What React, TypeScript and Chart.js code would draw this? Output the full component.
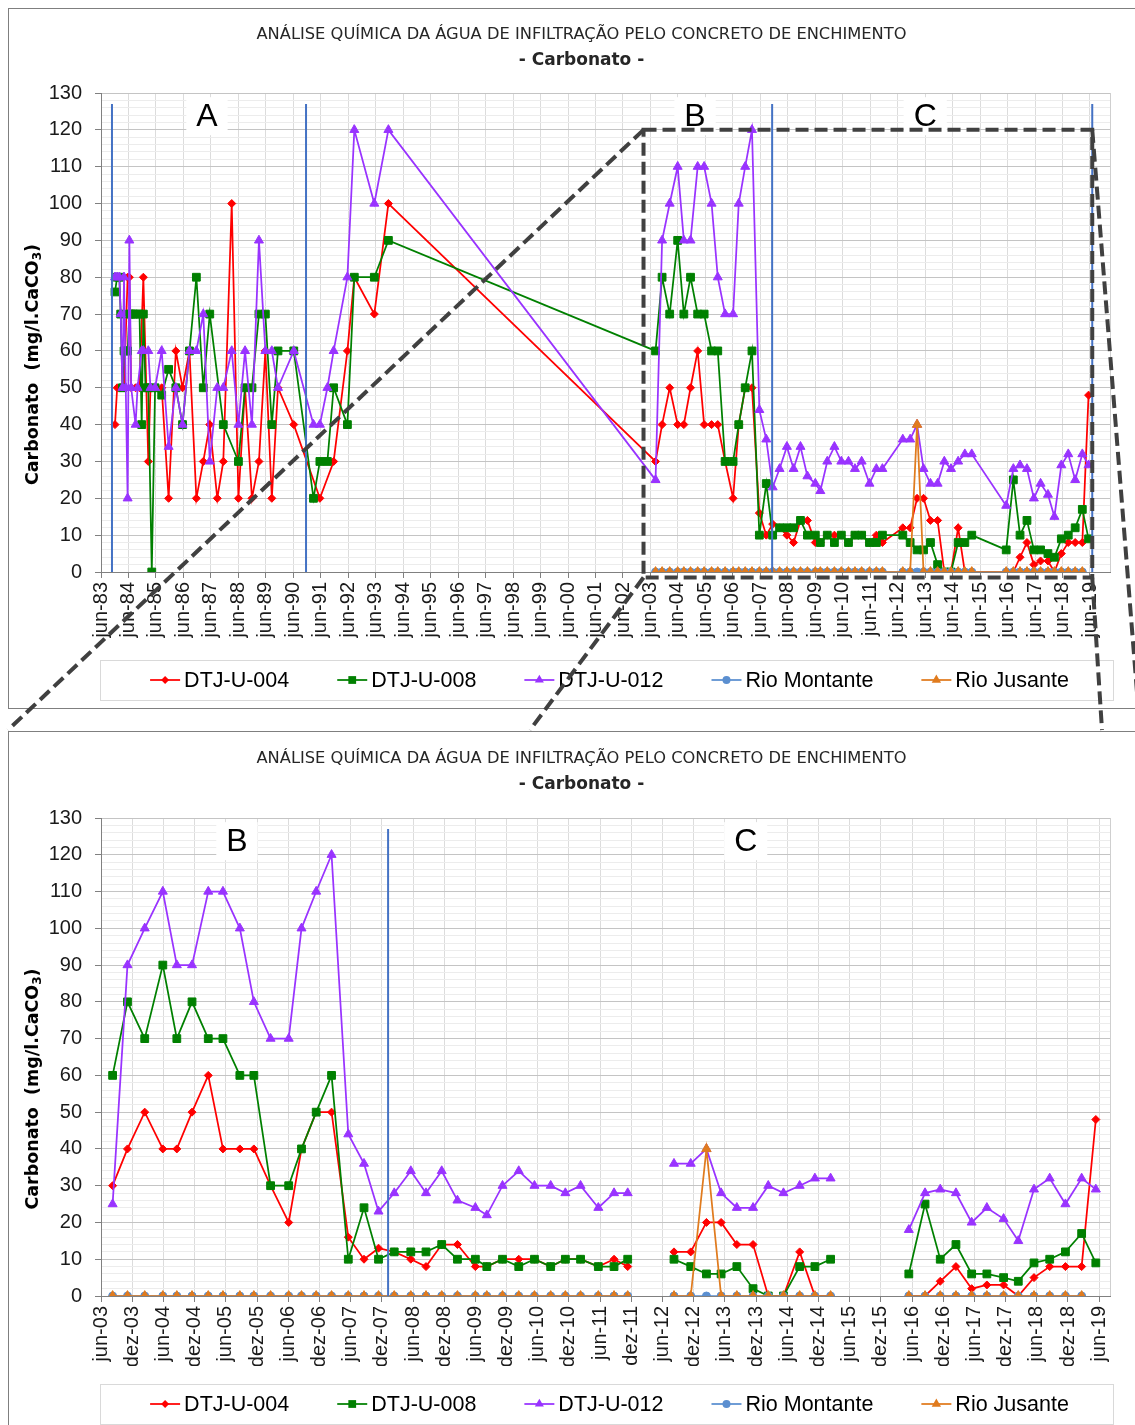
import React, { useEffect, useRef } from 'react';
import { Chart, registerables } from 'chart.js';

Chart.register(...registerables);

// ---------- Texts ----------
const TITLE = 'ANÁLISE QUÍMICA DA ÁGUA DE INFILTRAÇÃO PELO CONCRETO DE ENCHIMENTO';
const SUBTITLE = '- Carbonato -';
const AXIS_TITLE = ['Carbonato  (mg/l.CaCO', '3', ')'];
const seriesNames = ['DTJ-U-004', 'DTJ-U-008', 'DTJ-U-012', 'Rio Montante', 'Rio Jusante'];

// ---------- Period A campaigns (1983–1993): wells only ----------
const datesA = [
  '1983-12-04', '1984-01-02', '1984-01-31', '1984-02-18', '1984-03-12', '1984-04-02', '1984-04-25', '1984-05-20',
  '1984-06-12', '1984-07-06', '1984-08-05', '1984-09-03', '1984-09-29', '1984-10-25', '1984-11-23', '1984-12-15',
  '1985-01-13', '1985-02-19', '1985-03-20', '1985-04-06', '1985-05-20', '1985-08-16', '1985-11-16', '1986-02-20',
  '1986-05-20', '1986-08-20', '1986-11-20', '1987-02-20', '1987-05-17', '1987-08-25', '1987-11-13', '1988-03-04',
  '1988-06-01', '1988-08-28', '1988-11-28', '1989-03-01', '1989-05-25', '1989-08-19', '1989-11-09', '1990-06-07',
  '1991-02-24', '1991-05-20', '1991-08-28', '1991-11-19', '1992-05-20', '1992-08-20', '1993-05-13', '1993-11-16',
];
const dtj004A = [40, 50, null, 50, null, 50, null, 80, 80, 50, null, 50, null, 50, null, 80, null, 30, 50, null,
  50, 50, 20, 60, 50, 60, 20, 30, 40, 20, 30, 100, 20, 50, 20, 30, 60, 20, 50, 40, null, 20, null, 30, 60, 80, 70, 100];
const dtj008A = [76, 80, 80, 70, 50, 60, 60, 60, 70, 70, 70, 70, null, 70, 40, 70, 50, 50, null, 0,
  50, 48, 55, 50, 40, 60, 80, 50, 70, null, 40, null, 30, 50, 50, 70, 70, 40, 60, 60, 20, 30, 30, 50, 40, 80, 80, 90];
const dtj012A = [80, 80, 80, 70, 50, 80, 50, 20, 90, 50, null, 40, 50, null, 60, 60, null, 60, 50, null,
  50, 60, 34, 50, 40, 60, 60, 70, 30, 50, 50, 60, 40, 60, 40, 90, 60, 60, 50, 60, 40, 40, 50, 60, 80, 120, 100, 120];

// ---------- Periods B and C (2003–2019); null rows separate sampling blocks ----------
const datesBC = [
  '2003-08-08', '2003-11-03', '2004-02-12', '2004-05-28', '2004-08-18', '2004-11-15', '2005-02-18', '2005-05-15',
  '2005-08-22', '2005-11-12', '2006-02-18', '2006-06-04', '2006-08-18', '2006-11-12', '2007-02-10', '2007-05-19',
  '2007-08-19', '2007-11-12',
  '2008-02-12', '2008-05-19', '2008-08-16', '2008-11-16', '2009-02-16', '2009-06-01', '2009-08-07', '2009-11-07',
  '2010-02-10', '2010-05-13', '2010-08-16', '2010-11-10', '2011-02-07', '2011-05-22', '2011-08-22', '2011-11-10',
  '2012-03-01',
  '2012-08-07', '2012-11-13', '2013-02-13', '2013-05-10', '2013-08-10', '2013-11-13', '2014-02-10', '2014-05-10',
  '2014-08-13', '2014-11-10', '2015-02-10',
  '2015-09-01',
  '2016-05-13', '2016-08-16', '2016-11-13', '2017-02-13', '2017-05-16', '2017-08-13', '2017-11-19', '2018-02-13',
  '2018-05-16', '2018-08-16', '2018-11-16', '2019-02-19', '2019-05-13',
];
const dtj004BC = [30, 40, 50, 40, 40, 50, 60, 40, 40, 40, 30, 20, 40, 50, 50, 16, 10, 13,
  12, 10, 8, 14, 14, 8, 8, 10, 10, 10, 8, 10, 10, 8, 10, 8,
  null,
  12, 12, 20, 20, 14, 14, 0, 0, 12, 0, 0,
  null,
  0, 0, 4, 8, 2, 3, 3, 0, 5, 8, 8, 8, 48];
const dtj008BC = [60, 80, 70, 90, 70, 80, 70, 70, 60, 60, 30, 30, 40, 50, 60, 10, 24, 10,
  12, 12, 12, 14, 10, 10, 8, 10, 8, 10, 8, 10, 10, 8, 8, 10,
  null,
  10, 8, 6, 6, 8, 2, 0, 0, 8, 8, 10,
  null,
  6, 25, 10, 14, 6, 6, 5, 4, 9, 10, 12, 17, 9];
const dtj012BC = [25, 90, 100, 110, 90, 90, 110, 110, 100, 80, 70, 70, 100, 110, 120, 44, 36, 23,
  28, 34, 28, 34, 26, 24, 22, 30, 34, 30, 30, 28, 30, 24, 28, 28,
  null,
  36, 36, 40, 28, 24, 24, 30, 28, 30, 32, 32,
  null,
  18, 28, 29, 28, 20, 24, 21, 15, 29, 32, 25, 32, 29];
const rioMontanteBC = [0, 0, 0, 0, 0, 0, 0, 0, 0, 0, 0, 0, 0, 0, 0, 0, 0, 0,
  0, 0, 0, 0, 0, 0, 0, 0, 0, 0, 0, 0, 0, 0, 0, 0,
  null,
  0, 0, 0, 0, 0, 0, 0, 0, 0, 0, 0,
  null,
  0, 0, 0, 0, 0, 0, 0, 0, 0, 0, 0, 0, null];
const rioJusanteBC = [0, 0, 0, 0, 0, 0, 0, 0, 0, 0, 0, 0, 0, 0, 0, 0, 0, 0,
  0, 0, 0, 0, 0, 0, 0, 0, 0, 0, 0, 0, 0, 0, 0, 0,
  null,
  0, 0, 40, 0, 0, 0, 0, 0, 0, 0, 0,
  null,
  0, 0, 0, 0, 0, 0, 0, 0, 0, 0, 0, 0, null];

// ---------- Axes ----------
const topTickLabels = ['jun-83', 'jun-84', 'jun-85', 'jun-86', 'jun-87', 'jun-88', 'jun-89', 'jun-90', 'jun-91',
  'jun-92', 'jun-93', 'jun-94', 'jun-95', 'jun-96', 'jun-97', 'jun-98', 'jun-99', 'jun-00', 'jun-01', 'jun-02',
  'jun-03', 'jun-04', 'jun-05', 'jun-06', 'jun-07', 'jun-08', 'jun-09', 'jun-10', 'jun-11', 'jun-12', 'jun-13',
  'jun-14', 'jun-15', 'jun-16', 'jun-17', 'jun-18', 'jun-19'];
const bottomTickLabels = ['jun-03', 'dez-03', 'jun-04', 'dez-04', 'jun-05', 'dez-05', 'jun-06', 'dez-06', 'jun-07',
  'dez-07', 'jun-08', 'dez-08', 'jun-09', 'dez-09', 'jun-10', 'dez-10', 'jun-11', 'dez-11', 'jun-12', 'dez-12',
  'jun-13', 'dez-13', 'jun-14', 'dez-14', 'jun-15', 'dez-15', 'jun-16', 'dez-16', 'jun-17', 'dez-17', 'jun-18',
  'dez-18', 'jun-19'];
const topRange = ['1983-06-01', '2020-02-22'];
const bottomRange = ['2003-06-01', '2019-08-04'];
const Y_MAX = 130;

// ---------- Annotations ----------
const dividersTop = ['1983-10-25', '1990-11-17', '2007-11-05', '2019-07-01'];
const dividersBottom = ['2008-01-07'];
const regionLabelsTop = ['A', 'B', 'C'];
const regionDatesTop = ['1987-04-10', '2005-01-14', '2013-06-01'];
const regionLabelsBottom = ['B', 'C'];
const regionDatesBottom = ['2005-08-05', '2013-10-01'];
const REGION_LABEL_Y = 123.7;
const DIVIDER_TOP = 127;
const zoomWindow = { from: '2003-03-01', to: '2019-07-01', top: 120, bottom: -1.5 };

// ---------- Styles ----------
const FONT = '"Liberation Sans", Arial, sans-serif';
const TITLE_FONT = '"DejaVu Sans", Verdana, sans-serif';
const seriesStyle = [
  { color: '#FF0000', pointStyle: 'rectRot', radius: 4 },
  { color: '#008000', pointStyle: 'rect', radius: 5.5 },
  { color: '#9933FF', pointStyle: 'triangle', radius: 5.2 },
  { color: '#5B8FD0', pointStyle: 'circle', radius: 4 },
  { color: '#E07B1E', pointStyle: 'triangle', radius: 5.4 },
];
const TOP_ORIGIN = { x: 8, y: 8 };
const BOTTOM_ORIGIN = { x: 8, y: 731 };
const CANVAS_W = 1147;
const CANVAS_H = 700;
// page-space end points of the guide lines (top edge of the lower frame)
const guideTargets = [
  [8, 730], [530, 730], [1140, 730], [1102, 730],
];

const ts = (d: string) => {
  const [y, m, day] = d.split('-').map(Number);
  return Date.UTC(y, m - 1, day);
};
const labelToTime = (l: string) => {
  const [mon, yy] = l.split('-');
  const yr = Number(yy) >= 50 ? 1900 + Number(yy) : 2000 + Number(yy);
  return Date.UTC(yr, mon === 'jun' ? 5 : 11, 1);
};
const toPoints = (dates: string[], values: (number | null)[]) =>
  dates.map((d, i) => ({ x: ts(d), y: values[i] }));

function buildDatasets(pointsList: any[][], spanGaps: boolean) {
  return pointsList.map((pts, i) => ({
    label: seriesNames[i],
    data: pts,
    borderColor: seriesStyle[i].color,
    backgroundColor: seriesStyle[i].color,
    pointBackgroundColor: seriesStyle[i].color,
    pointBorderColor: seriesStyle[i].color,
    pointStyle: seriesStyle[i].pointStyle,
    pointRadius: seriesStyle[i].radius,
    pointBorderWidth: 1,
    borderWidth: 1.75,
    tension: 0,
    spanGaps,
    order: pointsList.length - i,
  }));
}

function drawMarker(ctx: CanvasRenderingContext2D, style: string, x: number, y: number, r: number) {
  ctx.beginPath();
  if (style === 'rectRot') {
    ctx.moveTo(x, y - r); ctx.lineTo(x + r, y); ctx.lineTo(x, y + r); ctx.lineTo(x - r, y); ctx.closePath();
  } else if (style === 'rect') {
    const s = Math.SQRT1_2 * r;
    ctx.rect(x - s, y - s, 2 * s, 2 * s);
  } else if (style === 'triangle') {
    for (let k = 0; k < 3; k++) {
      const a = (k * 2 * Math.PI) / 3;
      const px = x + Math.sin(a) * r, py = y - Math.cos(a) * r;
      if (k === 0) ctx.moveTo(px, py); else ctx.lineTo(px, py);
    }
    ctx.closePath();
  } else {
    ctx.arc(x, y, r, 0, Math.PI * 2);
  }
  ctx.fill();
}

function decorPlugin(p: { dividers: string[]; labels: string[]; labelDates: string[]; titleY: number }) {
  return {
    id: 'decor',
    beforeDatasetsDraw(chart: any) {
      const { ctx, chartArea: ca } = chart;
      ctx.save();
      ctx.strokeStyle = '#cfcfcf';
      ctx.lineWidth = 1;
      ctx.beginPath();
      ctx.moveTo(Math.round(ca.right) + 0.5, ca.top);
      ctx.lineTo(Math.round(ca.right) + 0.5, ca.bottom);
      ctx.stroke();
      ctx.restore();
    },
    afterDatasetsDraw(chart: any) {
      const { ctx, chartArea: ca, scales } = chart;
      ctx.save();
      // period dividers
      ctx.strokeStyle = '#4472C4';
      ctx.lineWidth = 2;
      p.dividers.forEach((d) => {
        const x = scales.x.getPixelForValue(ts(d));
        ctx.beginPath();
        ctx.moveTo(x, scales.y.getPixelForValue(DIVIDER_TOP));
        ctx.lineTo(x, ca.bottom);
        ctx.stroke();
      });
      // period letters
      ctx.font = `32px ${FONT}`;
      ctx.textAlign = 'center';
      ctx.textBaseline = 'middle';
      p.labels.forEach((t, i) => {
        const x = scales.x.getPixelForValue(ts(p.labelDates[i]));
        const y = scales.y.getPixelForValue(REGION_LABEL_Y);
        const w = ctx.measureText(t).width;
        ctx.fillStyle = '#ffffff';
        ctx.fillRect(x - w / 2 - 10, y - 19, w + 20, 38);
        ctx.fillStyle = '#000000';
        ctx.fillText(t, x, y + 1);
      });
      ctx.restore();
    },
    afterDraw(chart: any) {
      const { ctx, chartArea: ca } = chart;
      ctx.save();
      // titles
      ctx.fillStyle = '#262626';
      ctx.textAlign = 'center';
      ctx.textBaseline = 'middle';
      ctx.font = `16.3px ${TITLE_FONT}`;
      ctx.fillText(TITLE, chart.width / 2, p.titleY);
      ctx.font = `bold 17px ${TITLE_FONT}`;
      ctx.fillText(SUBTITLE, chart.width / 2, p.titleY + 26);

      // y axis title with subscript
      ctx.save();
      ctx.translate(25, (ca.top + ca.bottom) / 2 + 32);
      ctx.rotate(-Math.PI / 2);
      ctx.textAlign = 'left';
      ctx.fillStyle = '#000000';
      const mainFont = `bold 17.5px ${TITLE_FONT}`;
      const subFont = `bold 12px ${TITLE_FONT}`;
      ctx.font = mainFont;
      const w1 = ctx.measureText(AXIS_TITLE[0]).width;
      const w3 = ctx.measureText(AXIS_TITLE[2]).width;
      ctx.font = subFont;
      const w2 = ctx.measureText(AXIS_TITLE[1]).width;
      const x0 = -(w1 + w2 + w3) / 2;
      ctx.font = mainFont;
      ctx.fillText(AXIS_TITLE[0], x0, 0);
      ctx.font = subFont;
      ctx.fillText(AXIS_TITLE[1], x0 + w1, 5);
      ctx.font = mainFont;
      ctx.fillText(AXIS_TITLE[2], x0 + w1 + w2, 0);
      ctx.restore();

      // legend
      const boxL = ca.left - 1, boxR = ca.right + 3, boxT = ca.bottom + 88, boxH = 40;
      ctx.strokeStyle = '#d9d9d9';
      ctx.lineWidth = 1;
      ctx.strokeRect(Math.round(boxL) + 0.5, Math.round(boxT) + 0.5, Math.round(boxR - boxL), boxH);
      ctx.font = `21.5px ${FONT}`;
      const ds = chart.data.datasets;
      const widths = ds.map((d: any) => 34 + ctx.measureText(d.label).width);
      const gap = 48;
      const total = widths.reduce((a: number, b: number) => a + b, 0) + gap * (ds.length - 1);
      let x = (boxL + boxR) / 2 + 3 - total / 2;
      const cy = boxT + boxH / 2;
      ds.forEach((d: any, i: number) => {
        ctx.strokeStyle = d.borderColor;
        ctx.fillStyle = d.borderColor;
        ctx.lineWidth = 1.75;
        ctx.beginPath();
        ctx.moveTo(x, cy);
        ctx.lineTo(x + 30, cy);
        ctx.stroke();
        drawMarker(ctx, d.pointStyle, x + 15, cy, d.pointRadius);
        ctx.fillStyle = '#000000';
        ctx.textAlign = 'left';
        ctx.textBaseline = 'middle';
        ctx.fillText(d.label, x + 34, cy + 1);
        x += widths[i] + gap;
      });
      ctx.restore();
    },
  };
}

function makeConfig(p: {
  datasets: any[]; range: string[]; tickLabels: string[]; padTop: number; padBottom: number;
  dividers: string[]; labels: string[]; labelDates: string[]; titleY: number;
}) {
  const tickValues = p.tickLabels.map(labelToTime);
  const isMajor = (v: number) => Math.abs(v % 10) < 1e-9;
  return {
    type: 'line' as const,
    data: { datasets: p.datasets },
    options: {
      responsive: false,
      animation: false,
      devicePixelRatio: 1,
      events: [],
      layout: { padding: { top: p.padTop, left: 33, right: 45, bottom: p.padBottom } },
      plugins: { legend: { display: false }, tooltip: { enabled: false }, title: { display: false } },
      scales: {
        x: {
          type: 'linear',
          min: ts(p.range[0]),
          max: ts(p.range[1]),
          afterBuildTicks: (s: any) => { s.ticks = tickValues.map((v) => ({ value: v })); },
          afterFit: (s: any) => { s.height = 70; },
          ticks: {
            autoSkip: false, minRotation: 90, maxRotation: 90, padding: 4, color: '#1a1a1a',
            font: { family: FONT, size: 20 },
            callback: (v: number) => { const i = tickValues.indexOf(v); return i >= 0 ? p.tickLabels[i] : ''; },
          },
          grid: { color: '#dcdcdc', lineWidth: 1, tickLength: 6, tickColor: '#808080' },
          border: { color: '#808080', width: 1 },
        },
        y: {
          min: 0,
          max: Y_MAX,
          afterBuildTicks: (s: any) => {
            const t = [];
            for (let v = 0; v <= Y_MAX; v += 2) t.push({ value: v });
            s.ticks = t;
          },
          afterFit: (s: any) => { s.width = 60; },
          ticks: {
            autoSkip: false, padding: 13, color: '#1a1a1a', font: { family: FONT, size: 20 },
            callback: (v: number) => (isMajor(v) ? String(v) : ''),
          },
          grid: {
            color: (c: any) => (c.tick && isMajor(c.tick.value) ? '#c4c4c4' : '#ececec'),
            lineWidth: 1,
            tickLength: 6,
            tickColor: (c: any) => (c.tick && isMajor(c.tick.value) ? '#808080' : 'rgba(0,0,0,0)'),
          },
          border: { color: '#808080', width: 1 },
        },
      },
    },
    plugins: [decorPlugin({ dividers: p.dividers, labels: p.labels, labelDates: p.labelDates, titleY: p.titleY })],
  };
}

function drawZoomGuides(canvas: HTMLCanvasElement, chart: any) {
  const ctx = canvas.getContext('2d')!;
  ctx.clearRect(0, 0, canvas.width, canvas.height);
  const xs = chart.scales.x, ys = chart.scales.y;
  const L = TOP_ORIGIN.x + xs.getPixelForValue(ts(zoomWindow.from));
  const R = TOP_ORIGIN.x + xs.getPixelForValue(ts(zoomWindow.to));
  const T = TOP_ORIGIN.y + ys.getPixelForValue(zoomWindow.top);
  const B = TOP_ORIGIN.y + ys.getPixelForValue(zoomWindow.bottom);
  ctx.save();
  ctx.strokeStyle = '#404040';
  ctx.lineWidth = 4;
  ctx.setLineDash([13, 6]);
  ctx.strokeRect(L, T, R - L, B - T);
  const corners = [[L, T], [L, B], [R, T], [R, B]];
  corners.forEach(([cx, cy], i) => {
    ctx.beginPath();
    ctx.moveTo(cx, cy);
    ctx.lineTo(guideTargets[i][0], guideTargets[i][1]);
    ctx.stroke();
  });
  ctx.restore();
}

export default function App() {
  const topRef = useRef<HTMLCanvasElement>(null);
  const bottomRef = useRef<HTMLCanvasElement>(null);
  const overlayRef = useRef<HTMLCanvasElement>(null);

  useEffect(() => {
    const topSeries = [
      [...toPoints(datesA, dtj004A), ...toPoints(datesBC, dtj004BC)],
      [...toPoints(datesA, dtj008A), ...toPoints(datesBC, dtj008BC)],
      [...toPoints(datesA, dtj012A), ...toPoints(datesBC, dtj012BC)],
      toPoints(datesBC, rioMontanteBC),
      toPoints(datesBC, rioJusanteBC),
    ];
    const bottomSeries = [
      toPoints(datesBC, dtj004BC),
      toPoints(datesBC, dtj008BC),
      toPoints(datesBC, dtj012BC),
      toPoints(datesBC, rioMontanteBC),
      toPoints(datesBC, rioJusanteBC),
    ];
    const top = new Chart(topRef.current!, makeConfig({
      datasets: buildDatasets(topSeries, true), range: topRange, tickLabels: topTickLabels,
      padTop: 85, padBottom: 66, dividers: dividersTop, labels: regionLabelsTop, labelDates: regionDatesTop, titleY: 27,
    }) as any);
    const bottom = new Chart(bottomRef.current!, makeConfig({
      datasets: buildDatasets(bottomSeries, false), range: bottomRange, tickLabels: bottomTickLabels,
      padTop: 87, padBottom: 65, dividers: dividersBottom, labels: regionLabelsBottom, labelDates: regionDatesBottom, titleY: 28,
    }) as any);
    drawZoomGuides(overlayRef.current!, top);
    return () => {
      top.destroy();
      bottom.destroy();
    };
  }, []);

  const abs = (l: number, t: number, w: number, h: number) =>
    ({ position: 'absolute' as const, left: l, top: t, width: w, height: h });

  return (
    <div style={{ ...abs(0, 0, 1135, 1425), overflow: 'hidden', background: '#ffffff' }}>
      <canvas ref={topRef} width={CANVAS_W} height={CANVAS_H} style={abs(TOP_ORIGIN.x, TOP_ORIGIN.y, CANVAS_W, CANVAS_H)} />
      <div style={{ ...abs(TOP_ORIGIN.x, TOP_ORIGIN.y, CANVAS_W, 701), border: '1px solid #7f7f7f', boxSizing: 'border-box', pointerEvents: 'none' }} />
      <canvas ref={bottomRef} width={CANVAS_W} height={CANVAS_H} style={abs(BOTTOM_ORIGIN.x, BOTTOM_ORIGIN.y, CANVAS_W, CANVAS_H)} />
      <div style={{ ...abs(BOTTOM_ORIGIN.x, BOTTOM_ORIGIN.y, CANVAS_W, 710), border: '1px solid #7f7f7f', boxSizing: 'border-box', pointerEvents: 'none' }} />
      <canvas ref={overlayRef} width={1135} height={1425} style={{ ...abs(0, 0, 1135, 1425), pointerEvents: 'none' }} />
    </div>
  );
}
